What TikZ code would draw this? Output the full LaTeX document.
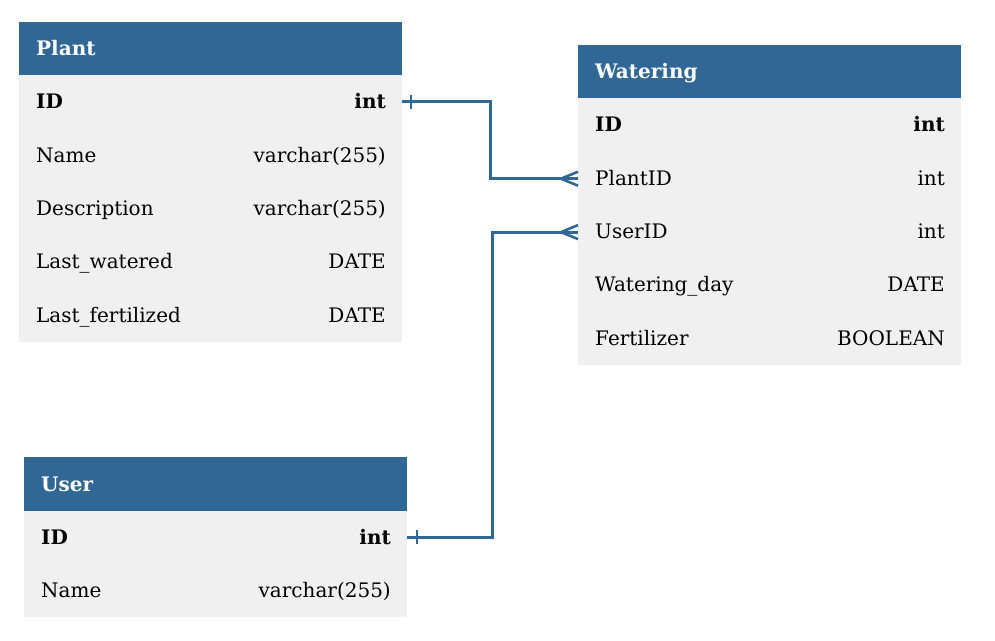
\documentclass[tikz,border=0pt]{standalone}
\usepackage{fontspec}
\setmainfont{DejaVu Serif}
\definecolor{hdr}{HTML}{316794}
\definecolor{bodyc}{HTML}{F0F0F0}
\begin{document}
\begin{tikzpicture}[x=1pt,y=-1pt,
  ttl/.style={text=white,font=\bfseries\fontsize{20}{22}\selectfont,anchor=base west,inner sep=0pt,yshift=-7pt},
  fld/.style={font=\fontsize{20}{22}\selectfont,anchor=base west,inner sep=0pt,yshift=-7pt},
  bfld/.style={font=\bfseries\fontsize{20}{22}\selectfont,anchor=base west,inner sep=0pt,yshift=-7pt},
  typ/.style={font=\fontsize{20}{22}\selectfont,anchor=base east,inner sep=0pt,yshift=-7pt},
  btyp/.style={font=\bfseries\fontsize{20}{22}\selectfont,anchor=base east,inner sep=0pt,yshift=-7pt},
  conn/.style={draw=hdr,line width=3pt}
]
\useasboundingbox (0,0) rectangle (995,640);
% Plant
\fill[hdr] (19,22) rectangle (402,75);
\fill[bodyc] (19,75) rectangle (402,342);
\node[ttl] (pT) at (36,48.5) {Plant};
\node[bfld] (p1) at (36,101.7) {ID};
\node[btyp] (p1t) at (386,101.7) {int};
\node[fld] (p2) at (36,155.1) {Name};
\node[typ] (p2t) at (386,155.1) {varchar(255)};
\node[fld] (p3) at (36,208.5) {Description};
\node[typ] (p3t) at (386,208.5) {varchar(255)};
\node[fld] (p4) at (36,261.9) {Last\_watered};
\node[typ] (p4t) at (386,261.9) {DATE};
\node[fld] (p5) at (36,315.3) {Last\_fertilized};
\node[typ] (p5t) at (386,315.3) {DATE};
\coordinate (pID) at (402,101.7);
% Watering
\fill[hdr] (578,45) rectangle (961,98);
\fill[bodyc] (578,98) rectangle (961,365);
\node[ttl] (wT) at (595,71.5) {Watering};
\node[bfld] (w1) at (595,124.7) {ID};
\node[btyp] (w1t) at (945,124.7) {int};
\node[fld] (w2) at (595,178.1) {PlantID};
\node[typ] (w2t) at (945,178.1) {int};
\node[fld] (w3) at (595,231.5) {UserID};
\node[typ] (w3t) at (945,231.5) {int};
\node[fld] (w4) at (595,284.9) {Watering\_day};
\node[typ] (w4t) at (945,284.9) {DATE};
\node[fld] (w5) at (595,338.3) {Fertilizer};
\node[typ] (w5t) at (945,338.3) {BOOLEAN};
\coordinate (wP) at (578,178.7);
\coordinate (wU) at (578,232.1);
% User
\fill[hdr] (24,457) rectangle (407,511);
\fill[bodyc] (24,511) rectangle (407,617);
\node[ttl] (uT) at (41,484) {User};
\node[bfld] (u1) at (41,537.3) {ID};
\node[btyp] (u1t) at (391,537.3) {int};
\node[fld] (u2) at (41,590.7) {Name};
\node[typ] (u2t) at (391,590.7) {varchar(255)};
\coordinate (uID) at (407,537.3);
% connectors
\draw[conn] (pID) -- (490,101.7) -- (490,178.7) -- (wP);
\draw[conn] (uID) -- (492,537.3) -- (492,232.1) -- (wU);
% one ticks
\draw[conn,line width=2.6pt] ([xshift=9]pID) ++(0,-7) -- ++(0,14);
\draw[conn,line width=2.6pt] ([xshift=10]uID) ++(0,-7) -- ++(0,14);
% crow's feet
\draw[conn,line width=2.6pt] ([yshift=-7]wP) -- ([xshift=-17]wP) -- ([yshift=7]wP);
\draw[conn,line width=2.6pt] ([yshift=-7]wU) -- ([xshift=-17]wU) -- ([yshift=7]wU);
\end{tikzpicture}
\end{document}
